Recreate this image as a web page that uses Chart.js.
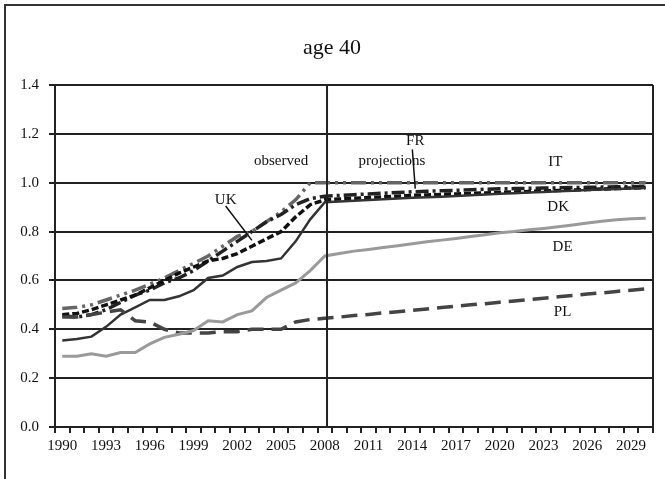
<!DOCTYPE html>
<html>
<head>
<meta charset="utf-8">
<script src="https://cdn.jsdelivr.net/npm/chart.js@4.4.1/dist/chart.umd.min.js"></script>
<style>
  html, body { margin: 0; padding: 0; background: #fff; }
  #wrap { width: 665px; height: 479px; position: relative; }
</style>
</head>
<body>
<div id="wrap"><canvas id="ageChart"></canvas></div>
<script>
const years = [];
for (let y = 1990; y <= 2030; y++) years.push(String(y));

const yTicks = [0, 0.2, 0.4, 0.6, 0.8, 1.0, 1.2, 1.4];

const itValues = [0.485, 0.49, 0.50, 0.52, 0.54, 0.56, 0.585, 0.61, 0.64, 0.67, 0.70, 0.74, 0.78, 0.80, 0.84, 0.88, 0.93, 1.0,
  1.0, 1.0, 1.0, 1.0, 1.0, 1.0, 1.0, 1.0, 1.0, 1.0, 1.0, 1.0, 1.0, 1.0, 1.0, 1.0, 1.0, 1.0, 1.0, 1.0, 1.0, 1.0, 1.0];
const frValues = [0.455, 0.45, 0.46, 0.48, 0.51, 0.54, 0.56, 0.59, 0.61, 0.64, 0.68, 0.72, 0.76, 0.80, 0.84, 0.87, 0.91, 0.935, 0.945,
  0.948, 0.951, 0.954, 0.957, 0.96, 0.963, 0.965, 0.967, 0.969, 0.971, 0.973, 0.975, 0.976, 0.977, 0.978, 0.979, 0.98, 0.981, 0.982, 0.983, 0.984, 0.985];
const dkValues = [0.46, 0.465, 0.48, 0.50, 0.52, 0.54, 0.57, 0.60, 0.63, 0.655, 0.68, 0.69, 0.71, 0.74, 0.77, 0.80, 0.86, 0.91, 0.93,
  0.933, 0.936, 0.939, 0.942, 0.945, 0.948, 0.95, 0.952, 0.954, 0.956, 0.958, 0.96, 0.962, 0.964, 0.966, 0.968, 0.97, 0.972, 0.974, 0.976, 0.978, 0.98];
const ukValues = [0.354, 0.36, 0.37, 0.41, 0.46, 0.49, 0.52, 0.52, 0.535, 0.56, 0.61, 0.62, 0.655, 0.675, 0.68, 0.69, 0.76, 0.85, 0.92,
  0.923, 0.926, 0.929, 0.932, 0.935, 0.938, 0.94, 0.943, 0.946, 0.949, 0.952, 0.955, 0.957, 0.96, 0.962, 0.965, 0.967, 0.97, 0.972, 0.974, 0.976, 0.978];
const deValues = [0.29, 0.29, 0.30, 0.29, 0.305, 0.305, 0.34, 0.367, 0.38, 0.395, 0.435, 0.43, 0.46, 0.475, 0.53, 0.56, 0.59, 0.64, 0.70,
  0.71, 0.72, 0.727, 0.735, 0.742, 0.75, 0.758, 0.765, 0.772, 0.78, 0.787, 0.795, 0.80, 0.807, 0.813, 0.82, 0.827, 0.835, 0.842, 0.848, 0.852, 0.855];
const plValues = [0.45, 0.45, 0.46, 0.47, 0.48, 0.435, 0.43, 0.40, 0.385, 0.385, 0.385, 0.39, 0.39, 0.40, 0.40, 0.40, 0.43, 0.44, 0.445,
  0.45, 0.456, 0.461, 0.467, 0.472, 0.478, 0.483, 0.489, 0.494, 0.50, 0.505, 0.511, 0.516, 0.522, 0.527, 0.533, 0.538, 0.544, 0.549, 0.555, 0.56, 0.566];

// text labels placed on the chart: [text, year index, value]
const seriesLabels = [
  ['IT', 33.8, 1.083],
  ['DK', 34.0, 0.90],
  ['DE', 34.3, 0.735],
  ['PL', 34.3, 0.47],
  ['FR', 24.2, 1.17],
  ['UK', 11.2, 0.93]
];
const dividerIndex = 18.15; // 2008 observed / projections split

const FONT = "'Liberation Serif', 'Times New Roman', serif";
const INK = '#222';

const decorPlugin = {
  id: 'decor',
  beforeDraw(chart) {
    const ctx = chart.ctx;
    ctx.save();
    ctx.fillStyle = '#fff';
    ctx.fillRect(0, 0, chart.width, chart.height);
    ctx.strokeStyle = '#333';
    ctx.lineWidth = 2;
    ctx.strokeRect(5, 5, 700, 520);
    ctx.restore();
  },
  afterDatasetsDraw(chart) {
    const ctx = chart.ctx;
    const x = chart.scales.x, y = chart.scales.y;
    const a = chart.chartArea;
    ctx.save();
    // plot box right edge + 2008 divider
    ctx.strokeStyle = INK;
    ctx.lineWidth = 2;
    ctx.beginPath();
    ctx.moveTo(a.right, a.top);
    ctx.lineTo(a.right, a.bottom);
    const dx = x.getPixelForValue(dividerIndex);
    ctx.moveTo(dx, a.top);
    ctx.lineTo(dx, a.bottom);
    ctx.stroke();

    // title
    ctx.fillStyle = '#111';
    ctx.textAlign = 'center';
    ctx.textBaseline = 'middle';
    ctx.font = '22px ' + FONT;
    ctx.fillText('age 40', 332, 48);

    ctx.font = '15px ' + FONT;
    ctx.fillText('observed', x.getPixelForValue(15.0), y.getPixelForValue(1.09));
    ctx.fillText('projections', x.getPixelForValue(22.6), y.getPixelForValue(1.09));
    seriesLabels.forEach(([t, i, v]) => {
      ctx.fillText(t, x.getPixelForValue(i), y.getPixelForValue(v));
    });

    // leader lines
    ctx.strokeStyle = '#111';
    ctx.lineWidth = 1.5;
    ctx.beginPath();
    ctx.moveTo(x.getPixelForValue(24.0), y.getPixelForValue(1.136));
    ctx.lineTo(x.getPixelForValue(24.2), y.getPixelForValue(0.976));
    ctx.moveTo(x.getPixelForValue(11.2), y.getPixelForValue(0.905));
    ctx.lineTo(x.getPixelForValue(13.0), y.getPixelForValue(0.764));
    ctx.stroke();
    ctx.restore();
  }
};

const line = (label, data, color, width, dash) => ({
  label, data,
  borderColor: color,
  borderWidth: width,
  borderDash: dash,
  borderCapStyle: 'butt',
  pointRadius: 0,
  tension: 0,
  fill: false
});

new Chart(document.getElementById('ageChart').getContext('2d'), {
  type: 'line',
  data: {
    labels: years,
    datasets: [
      line('DE', deValues, '#9a9a9a', 3, []),
      line('PL', plValues, '#444', 3.5, [16, 8]),
      line('UK', ukValues, '#333', 2.5, []),
      line('DK', dkValues, '#111', 3.5, [7, 3]),
      line('FR', frValues, '#222', 3.5, [13, 4, 3, 4]),
      line('IT', itValues, '#666', 3.5, [15, 5, 3, 5, 3, 5])
    ]
  },
  options: {
    responsive: true,
    maintainAspectRatio: false,
    animation: false,
    layout: { padding: { top: 85, right: 12, left: 0, bottom: 0 } },
    plugins: {
      legend: { display: false },
      tooltip: { enabled: false }
    },
    scales: {
      x: {
        offset: true,
        grid: { display: true, drawOnChartArea: false, drawTicks: true, tickLength: 6, offset: true, color: INK, lineWidth: 2 },
        border: { display: true, color: INK, width: 2 },
        ticks: {
          autoSkip: false, maxRotation: 0, minRotation: 0, padding: 4,
          color: '#111', font: { family: FONT, size: 15 },
          callback: (v, i) => (i % 3 === 0 ? years[i] : '')
        },
        afterFit: (s) => { s.height = 52; }
      },
      y: {
        min: 0, max: 1.4,
        afterBuildTicks: (s) => { s.ticks = yTicks.map(v => ({ value: v })); },
        grid: { color: INK, lineWidth: 2, tickLength: 6 },
        border: { display: true, color: INK, width: 2 },
        ticks: {
          padding: 10, color: '#111', font: { family: FONT, size: 15 },
          callback: (v) => Number(v).toFixed(1)
        },
        afterFit: (s) => { s.width = 55; }
      }
    }
  },
  plugins: [decorPlugin]
});
</script>
</body>
</html>
